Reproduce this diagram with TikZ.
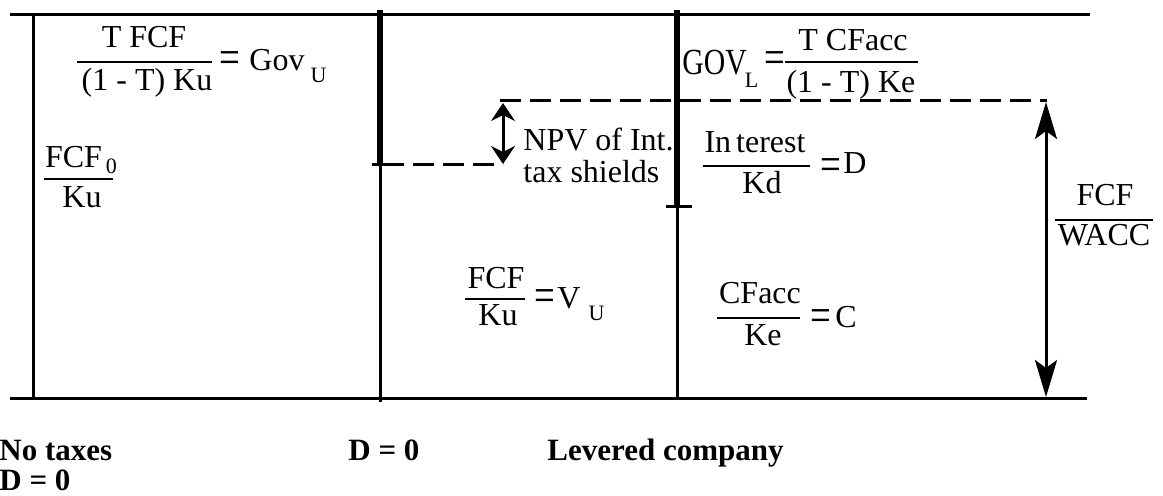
\documentclass[tikz,border=0pt]{standalone}
\usepackage{graphicx}
\usepackage{fontspec}
\setmainfont{Liberation Serif}
\usetikzlibrary{arrows.meta}
% tall equals sign as set by the equation editor
\newcommand\eqs{\scalebox{1.15}[1.5]{=}}
% lowered subscript: drop, then text
\newcommand\lowsub[2]{\raisebox{-#1}{\fontsize{11}{12}\selectfont #2}}
\tikzset{
  txt/.style={inner sep=0pt, font=\fontsize{16}{19}\selectfont, anchor=base},
  txtw/.style={txt, anchor=base west},
  lbl/.style={inner sep=0pt, font=\fontsize{15.5}{18}\selectfont\bfseries, anchor=base west},
  thinline/.style={line width=1.5pt},
  heavyline/.style={line width=3.2pt},
  fracbar/.style={line width=1.4pt},
  dashline/.style={line width=1.5pt, dash pattern=on 10.5pt off 4.5pt},
  smallarrow/.style={line width=1.5pt, {Stealth[length=9pt,width=12pt,inset=3pt]}-{Stealth[length=9pt,width=12pt,inset=3pt]}},
  longarrow/.style={line width=1.5pt, {Stealth[length=18.5pt,width=11pt,inset=4pt]}-{Stealth[length=18.5pt,width=11pt,inset=4pt]}}
}
\begin{document}
\begin{tikzpicture}[x=0.5pt,y=-0.5pt]
\useasboundingbox (0,0) rectangle (1163,495);

% frame lines
\draw[thinline] (10,14) -- (1090,14);
\draw[thinline] (10,398) -- (1087,398);
\draw[thinline] (33,14) -- (33,398);

% boundary between no taxes and unlevered
\draw[heavyline] (380,10) -- (380,164);
\draw[thinline] (372,164) -- (392,164);
\draw[thinline] (380,164) -- (380,402);

% boundary between unlevered and levered
\draw[heavyline] (677,10) -- (677,206);
\draw[thinline] (666,206) -- (692,206);
\draw[thinline] (677,206) -- (677,398);

% value levels
\draw[dashline] (383,164) -- (503,164);
\draw[dashline] (500,100) -- (1047,100);

% arrows
\coordinate (npvtop) at (503,103);
\coordinate (npvbot) at (503,164);
\draw[smallarrow] (npvtop) -- (npvbot);
\coordinate (wacctop) at (1046,102);
\coordinate (waccbot) at (1046,397);
\draw[longarrow] (wacctop) -- (waccbot);

% T FCF / (1 - T) Ku = Gov_U
\node[txt] (govun) at (144,47) {T FCF};
\draw[fracbar] (77,62) -- (212,62);
\node[txt] (govud) at (147,90) {(1 - T) Ku};
\node[txt] (govueq) at (230,73) {\eqs};
\node[txtw] (govu) at (249,70) {Gov\kern3pt\lowsub{6pt}{U}};

% FCF_0 / Ku
\node[txt] (fcf0n) at (81,167) {FCF\kern2pt\lowsub{3pt}{0}};
\draw[fracbar] (44,179) -- (113,179);
\node[txt] (fcf0d) at (82,207) {Ku};

% tax shield label
\node[txtw] (npv1) at (523,150) {NPV of Int.};
\node[txtw] (npv2) at (523,182) {tax shields};

% GOV_L = T CFacc / (1 - T) Ke
\node[txtw] (govl) at (682,74) {\scalebox{0.93}[1.15]{GOV}\kern-1pt\lowsub{6.5pt}{L}};
\node[txt] (govleq) at (775,73) {\eqs};
\draw[fracbar] (785,62) -- (918,62);
\node[txt] (govln) at (853,50) {T CFacc};
\node[txt] (govld) at (851,92) {(1 - T) Ke};

% Interest / Kd = D
\node[txt] (intn) at (755,152) {In\kern2.5pt terest};
\draw[fracbar] (703,166) -- (810,166);
\node[txt] (intd) at (762,193) {Kd};
\node[txt] (inteq) at (831,180) {\eqs};
\node[txtw] (dval) at (843,173) {D};

% FCF / WACC
\node[txt] (waccn) at (1105,205) {FCF};
\draw[fracbar] (1055,220) -- (1153,220);
\node[txt] (waccd) at (1104,245) {WACC};

% FCF / Ku = V_U
\node[txt] (vun) at (496,288) {FCF};
\draw[fracbar] (465,299) -- (525,299);
\node[txt] (vud) at (498,325) {Ku};
\node[txt] (vueq) at (545,311) {\eqs};
\node[txtw] (vu) at (557,308) {V\kern4pt\lowsub{6pt}{U}};

% CFacc / Ke = C
\node[txt] (cn) at (760,303) {CFacc};
\draw[fracbar] (717,318) -- (800,318);
\node[txt] (cd) at (763,345) {Ke};
\node[txt] (ceq) at (821,331) {\eqs};
\node[txtw] (cval) at (835,327) {C};

% case labels
\node[lbl] (case1a) at (-1,460) {No taxes};
\node[lbl] (case1b) at (-1,490) {D = 0};
\node[lbl] (case2) at (348,460) {D = 0};
\node[lbl] (case3) at (547,460) {Levered company};
\end{tikzpicture}
\end{document}
